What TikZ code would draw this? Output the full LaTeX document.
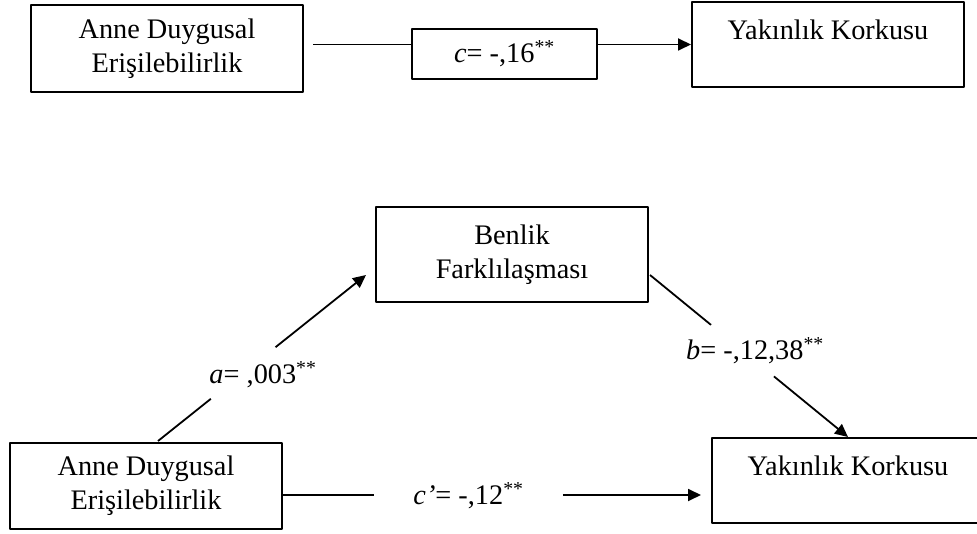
\documentclass[tikz,border=0pt]{standalone}
\usepackage{fontspec}
\setmainfont{Liberation Serif}
\usetikzlibrary{arrows.meta,calc}
\tikzset{kutu/.style={draw,line width=2pt,minimum width=272pt,align=center,inner sep=0pt},
	ykkutu/.style={kutu,minimum height=85pt,text height=19pt,text depth=29pt},
	etiket/.style={inner sep=0pt}}
\begin{document}
\begin{tikzpicture}[x=1pt,y=-1pt,line join=round,>={Triangle[length=13pt,width=12pt]},line width=1.8pt,font=\fontsize{28.3}{34}\selectfont]
	\useasboundingbox (0,0) rectangle (977,534);
	\clip (0,0) rectangle (977,534);
	% ust model
	\node[kutu,minimum height=87pt] (ad1) at (167,48.5) {Anne Duygusal\\Erişilebilirlik};
	\node[kutu,minimum width=185pt,minimum height=50pt] (cc) at (504.5,54) {\textit{c}= -,16\textsuperscript{**}};
	\node[ykkutu] (yk1) at (828,44.5) {Yakınlık Korkusu};
	\coordinate (t0) at ($(ad1.east)+(9,0)$);
	\draw (t0 |- yk1.west)--(yk1.west -| cc.west);
	\draw[->] (yk1.west -| cc.east)--(yk1.west);
	% alt model
	\node[kutu,minimum height=95pt] (bf) at (512,254.5) {Benlik\\Farklılaşması};
	\node[kutu,minimum height=86pt] (ad2) at (146,486) {Anne Duygusal\\Erişilebilirlik};
	\node[ykkutu] (yk2) at (848,480.5) {Yakınlık Korkusu};
	\node[etiket] (la) at (263,375) {\textit{a}= ,003\textsuperscript{**}};
	\node[etiket] (lb) at (755,351) {\textit{b}= -,12,38\textsuperscript{**}};
	\node[etiket,minimum width=187pt] (lc) at (468.5,496) {\textit{c’}= -,12\textsuperscript{**}};
	\coordinate (a0) at ($(ad2.north)+(12,-1)$);
	\coordinate (a3) at ($(bf.west)+(-9,20.5)$);
	\path (a0)--(a3) coordinate[pos=0.254] (a1) coordinate[pos=0.565] (a2);
	\draw (a0)--(a1);
	\draw[->] (a2)--(a3);
	\coordinate (b0) at ($(bf.east)+(1,20.5)$);
	\path (b0)--(yk2.north) coordinate[pos=0.308] (b1) coordinate[pos=0.626] (b2);
	\draw (b0)--(b1);
	\draw[->] (b2)--(yk2.north);
	\coordinate (c0) at ($(ad2.east)+(0,9)$);
	\draw (c0)--(c0 -| lc.west);
	\draw[->] (c0 -| lc.east)--($(c0 -| yk2.west)+(-10,0)$);
\end{tikzpicture}
\end{document}
